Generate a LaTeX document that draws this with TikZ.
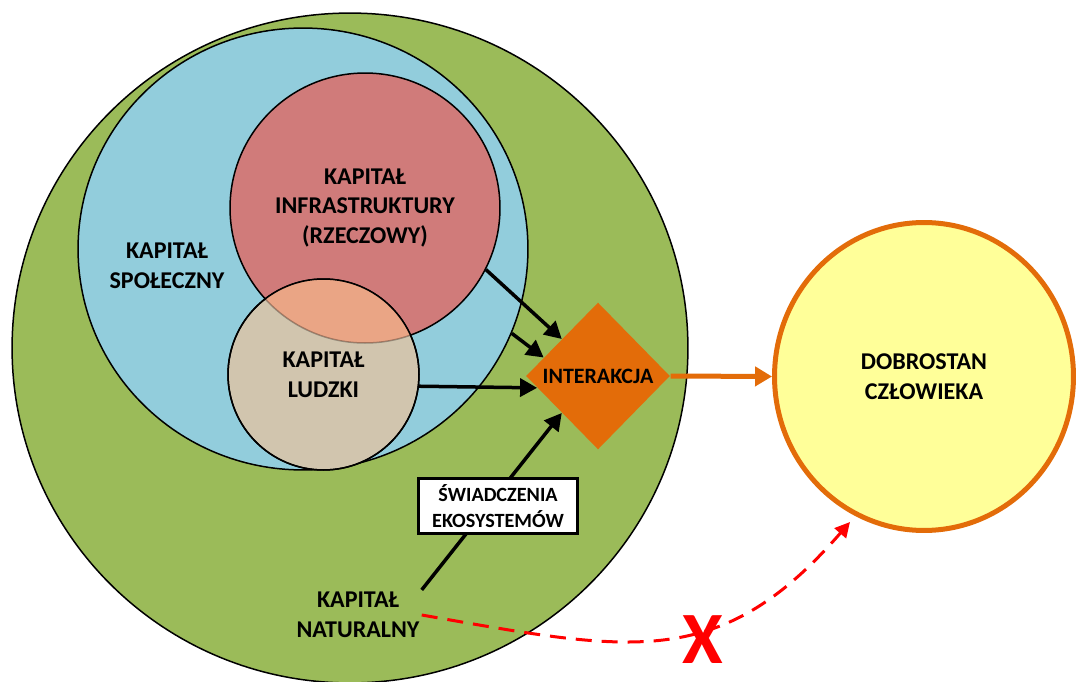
\documentclass[tikz,border=0pt]{standalone}
\usepackage{fontspec}
\setmainfont{Carlito}
\usepackage{tikz}
\usetikzlibrary{shapes.geometric,arrows.meta,calc,positioning}

\definecolor{natgreen}{HTML}{9BBB59}
\definecolor{socblue}{HTML}{92CDDC}
\definecolor{infrared}{HTML}{D07B7A}
\definecolor{humantan}{HTML}{D1C5AE}
\definecolor{overlap}{HTML}{EAA585}
\definecolor{interorange}{HTML}{E36C09}
\definecolor{wellyellow}{HTML}{FFFF99}

\begin{document}
\begin{tikzpicture}[x=0.02cm,y=-0.02cm,auto,semithick,
		cap node/.style={ellipse, draw=black, line width=0.03cm, inner sep=0pt, align=center, font=\fontsize{13.7}{17}\selectfont\bfseries},
		label node/.style={align=center, inner sep=1pt, font=\fontsize{13.7}{17}\selectfont\bfseries},
		box node/.style={rectangle, draw, fill=white, line width=0.06cm, align=center, minimum width=3.2cm, minimum height=1.05cm, font=\fontsize{11.5}{15}\selectfont\bfseries},
		flow/.style={-{Triangle[length=0.34cm,width=0.36cm]}, line width=0.07cm},
		lost flow/.style={-{Triangle[length=0.3cm,width=0.3cm]}, red, line width=0.06cm, dash pattern=on 0.32cm off 0.2cm}]

	\useasboundingbox (0,0) rectangle (1078,682);

	\node[cap node, fill=natgreen, minimum width=13.52cm, minimum height=13.4cm] (naturalnyc) at (350,348) {};
	\node[cap node, fill=socblue, minimum width=9.0cm, minimum height=8.84cm] (spoleczny) at (303,249) {};
	\node[cap node, fill=infrared, minimum width=5.4cm, minimum height=5.4cm] (infra) at (365,208) {KAPITAŁ\\INFRASTRUKTURY\\(RZECZOWY)};
	\node[cap node, fill=humantan, minimum width=3.82cm, minimum height=3.82cm] (ludzki) at (323.5,374.5) {KAPITAŁ\\LUDZKI};
	\begin{scope}
		\clip (ludzki.center) circle[radius=95.5];
		\fill[overlap] (infra.center) circle[radius=135];
		\draw[black, opacity=.3, line width=0.03cm] (infra.center) circle[radius=135];
	\end{scope}
	\draw[line width=0.03cm] (ludzki.center) circle[radius=95.5];

	\node[label node] (spolecznyl) at (167,266) {KAPITAŁ\\SPOŁECZNY};
	\node[label node] (naturalny) at (358,615) {KAPITAŁ\\NATURALNY};
	\node[diamond, fill=interorange, inner sep=0pt, minimum width=2.88cm, minimum height=2.94cm, font=\fontsize{12.5}{15}\selectfont\bfseries] (interakcja) at (598,376) {INTERAKCJA};
	\node[cap node, fill=wellyellow, draw=interorange, line width=0.1cm, minimum width=5.98cm, minimum height=6.16cm] (dobrostan) at (924,376.5) {DOBROSTAN\\CZŁOWIEKA};
	\coordinate (xend) at (850,522);

	% arrows into the interaction
		\path	(infra.-27) 	edge[flow] (interakcja.north west);
		\path	(spoleczny.-22) 	edge[flow] ($(interakcja.west)!0.25!(interakcja.north)$);
		\path	(ludzki.-7) 	edge[flow] ($(interakcja.west)!0.16!(interakcja.south)$);
		\path	(naturalny.north east) 	edge[flow] (interakcja.south west);
	\node[box node] (swiadczenia) at (498,506) {ŚWIADCZENIA\\EKOSYSTEMÓW};

		\path	(interakcja.east) 	edge[-{Triangle[length=0.34cm,width=0.38cm]}, draw=interorange, line width=0.1cm] (dobrostan.west);
		\draw[lost flow] (naturalny.east) .. controls (629,651) and (719,673) .. (xend);
	\node[text=red, inner sep=0pt, font=\fontsize{42}{42}\selectfont\bfseries] (brak) at (703,640) {X};
\end{tikzpicture}
\end{document}
